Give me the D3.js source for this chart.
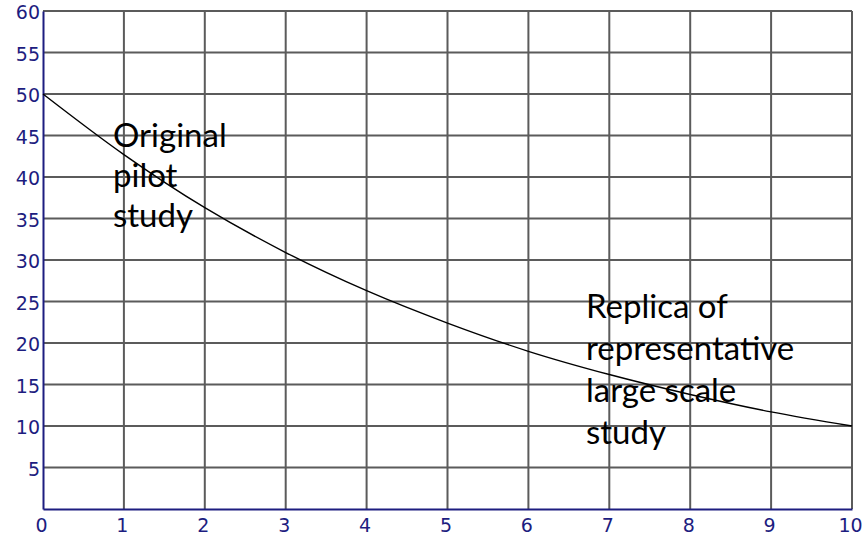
<!DOCTYPE html>
<html><head><meta charset="utf-8">
<script src="https://cdn.jsdelivr.net/npm/d3@7"></script>
<style>
html,body{margin:0;padding:0;background:#fff;}
svg{display:block;}
</style></head>
<body>
<svg id="chart" width="865" height="537"></svg>
<script>
// ---- data ----
const xValues = [0, 1, 2, 3, 4, 5, 6, 7, 8, 9, 10];
const yValues = [50, 42.7, 36.3, 30.9, 26.3, 22.4, 19.0, 16.2, 13.8, 11.7, 10.0];
const xTicks = [0, 1, 2, 3, 4, 5, 6, 7, 8, 9, 10];
const yTicks = [5, 10, 15, 20, 25, 30, 35, 40, 45, 50, 55, 60];
const noteLeft = ["Original", "pilot", "study"];
const noteRight = ["Replica of", "representative", "large scale", "study"];

const svg = d3.select("#chart");
const x = d3.scaleLinear().domain([0, 10]).range([43, 852]);
const y = d3.scaleLinear().domain([0, 60]).range([509, 11]);

const gridColor = "#5b5b5b";
const axisColor = "#1d1d80";

// grid
const grid = svg.append("g");
grid.selectAll("line.v").data(xTicks.slice(1)).join("line")
  .attr("x1", d => x(d)).attr("x2", d => x(d))
  .attr("y1", y(0)).attr("y2", y(60))
  .attr("stroke", gridColor).attr("stroke-width", 2);
grid.selectAll("line.h").data(yTicks).join("line")
  .attr("x1", x(0)).attr("x2", x(10))
  .attr("y1", d => y(d)).attr("y2", d => y(d))
  .attr("stroke", gridColor).attr("stroke-width", 2);

// axes
const yAxis = d3.axisLeft(y).tickValues(yTicks).tickSize(0).tickPadding(3).tickFormat(d3.format("d"));
const xAxis = d3.axisBottom(x).tickValues(xTicks).tickSize(0).tickPadding(10).tickFormat(d3.format("d"));

const gy = svg.append("g").attr("transform", `translate(${x(0)},0)`).call(yAxis);
const gx = svg.append("g").attr("transform", `translate(0,${y(0)})`).call(xAxis);
[gx, gy].forEach(g => {
  g.select(".domain").attr("stroke", axisColor).attr("stroke-width", 2);
  g.selectAll("text").attr("fill", axisColor)
    .style("font-family", "'DejaVu Sans'").style("font-size", "19px");
});
gy.selectAll("text").attr("dy", "0.4em");
gx.selectAll("text").attr("dx", "-2");

// curve
const pts = xValues.map((v, i) => [v, yValues[i]]);
svg.append("path").datum(pts)
  .attr("fill", "none").attr("stroke", "#000").attr("stroke-width", 1.4)
  .attr("d", d3.line().x(d => x(d[0])).y(d => y(d[1])).curve(d3.curveCatmullRom));

// annotations
const noteFont = "Lato, 'Open Sans', sans-serif";
function note(lines, x0, y0, step) {
  const t = svg.append("text").attr("fill", "#000")
    .style("font-family", noteFont).style("font-size", "33px");
  lines.forEach((l, i) => t.append("tspan").attr("x", x0).attr("y", y0 + i * step).text(l));
}
note(noteLeft, 113, 147, 40);
note(noteRight, 586, 318, 42);
</script>
</body></html>
